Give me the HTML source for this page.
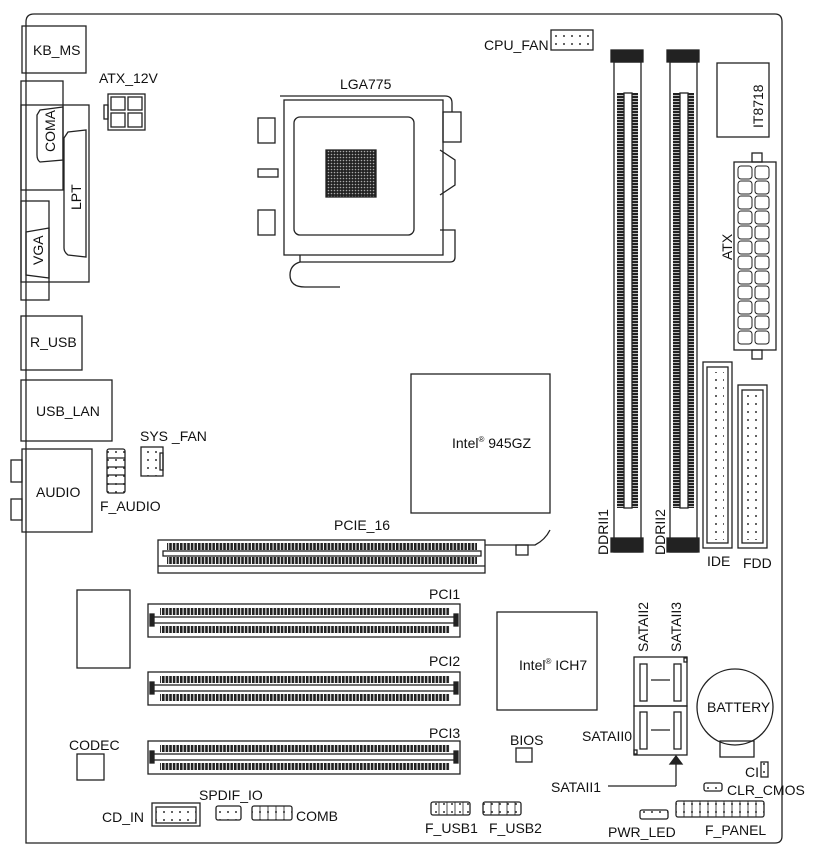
<!DOCTYPE html>
<html><head><meta charset="utf-8"><style>
html,body{margin:0;padding:0;background:#fff}
svg{display:block}
text{font-family:"Liberation Sans",Arial,sans-serif;font-size:14px;fill:#111}
</style></head><body>
<svg width="813" height="864" viewBox="0 0 813 864" xmlns="http://www.w3.org/2000/svg">
<defs>
<pattern id="pins" width="3.6" height="10" patternUnits="userSpaceOnUse"><rect x="0" y="0" width="2.6" height="10" fill="#222"/></pattern>
<pattern id="dpins" width="10" height="3" patternUnits="userSpaceOnUse"><rect x="0" y="0" width="10" height="2.3" fill="#222"/></pattern>
<pattern id="dots" width="8" height="8" patternUnits="userSpaceOnUse"><rect width="8" height="8" fill="#fff"/><circle cx="4" cy="4" r="1" fill="#333"/></pattern>
<pattern id="hd" x="0" y="0" width="7.6" height="6" patternUnits="userSpaceOnUse"><rect width="7.6" height="6" fill="#fff"/><rect x="3" y="2" width="1.6" height="1.6" fill="#222"/></pattern>
<pattern id="grid" width="3" height="3" patternUnits="userSpaceOnUse"><rect width="3" height="3" fill="#222"/><circle cx="1.5" cy="1.5" r="0.8" fill="#aaa"/></pattern>
</defs>
<g fill="none" stroke="#222" stroke-width="1.3">
<path d="M26 843 L26 22 Q26 14 34 14 L775 14 Q782 14 782 22 L782 836 Q782 843 775 843 Z"/>
<rect x="22" y="26" width="64" height="47"/>
<rect x="21" y="81" width="42" height="109"/>
<rect x="21" y="105" width="68" height="177"/>
<path d="M40 110 L63 107 L63 160 L40 162 Q37 160 37 155 L37 115 Z"/>
<path d="M68 132 L86 130 L86 257 L68 255 Q64 252 64 248 L64 138 Z"/>
<rect x="21" y="201" width="28" height="99"/>
<path d="M26 232 L49 228 L49 278 L26 275 Z"/>
<rect x="108" y="94" width="37" height="36"/>
<rect x="104" y="105" width="4" height="14"/>
<rect x="111" y="97" width="14" height="13"/><rect x="128" y="97" width="14" height="13"/>
<rect x="111" y="113" width="14" height="14"/><rect x="128" y="113" width="14" height="14"/>
<rect x="21" y="316" width="61" height="54"/>
<rect x="21" y="380" width="91" height="61"/>
<rect x="22" y="449" width="70" height="83"/>
<rect x="11" y="460" width="11" height="22"/><rect x="11" y="499" width="11" height="21"/>
<rect x="107" y="449" width="18" height="44" rx="2" fill="url(#dots)"/>
<line x1="107" y1="458" x2="125" y2="458"/><line x1="107" y1="467" x2="125" y2="467"/><line x1="107" y1="475" x2="125" y2="475"/><line x1="107" y1="484" x2="125" y2="484"/>
<rect x="141" y="447" width="22" height="29" fill="url(#dots)"/><rect x="160" y="453" width="3" height="17"/>
<rect x="551" y="30" width="42" height="20" fill="url(#dots)"/>
<path d="M280 96 L445 96 Q452 96 452 103 L452 112"/>
<rect x="284" y="100" width="159" height="155"/>
<rect x="294" y="117" width="120" height="118" rx="6"/>
<rect x="258" y="118" width="17" height="25"/><rect x="258" y="169" width="20" height="8"/><rect x="258" y="210" width="17" height="25"/>
<rect x="443" y="112" width="18" height="30"/>
<path d="M440 150 L455 160 L455 185 L440 195"/>
<path d="M440 230 L455 230 L455 257 Q455 262 450 262 L300 262"/>
<path d="M300 255 L300 262 Q290 265 290 275 Q290 287 305 287 L340 287"/>
<rect x="326" y="150" width="50" height="47" fill="url(#grid)"/>
<rect x="614" y="62" width="27" height="490"/>
<rect x="611" y="50" width="32" height="12" fill="#222"/>
<rect x="617" y="93" width="21" height="415" fill="url(#dpins)" stroke="none"/>
<rect x="624" y="93" width="8" height="415" fill="#fff"/>
<rect x="611" y="538" width="32" height="14" fill="#222"/>
<rect x="670" y="62" width="27" height="490"/>
<rect x="667" y="50" width="32" height="12" fill="#222"/>
<rect x="673" y="93" width="21" height="415" fill="url(#dpins)" stroke="none"/>
<rect x="680" y="93" width="8" height="415" fill="#fff"/>
<rect x="667" y="538" width="32" height="14" fill="#222"/>
<rect x="717" y="63" width="52" height="74"/>
<rect x="734" y="162" width="42" height="188"/>
<rect x="752" y="153" width="10" height="9"/><rect x="752" y="350" width="10" height="9"/>
<g stroke-width="1">
<rect x="738" y="166" width="14" height="13" rx="3"/><rect x="755" y="166" width="14" height="13" rx="3"/>
<rect x="738" y="181" width="14" height="13" rx="3"/><rect x="755" y="181" width="14" height="13" rx="3"/>
<rect x="738" y="196" width="14" height="13" rx="3"/><rect x="755" y="196" width="14" height="13" rx="3"/>
<rect x="738" y="211" width="14" height="13" rx="3"/><rect x="755" y="211" width="14" height="13" rx="3"/>
<rect x="738" y="226" width="14" height="13" rx="3"/><rect x="755" y="226" width="14" height="13" rx="3"/>
<rect x="738" y="241" width="14" height="13" rx="3"/><rect x="755" y="241" width="14" height="13" rx="3"/>
<rect x="738" y="256" width="14" height="13" rx="3"/><rect x="755" y="256" width="14" height="13" rx="3"/>
<rect x="738" y="271" width="14" height="13" rx="3"/><rect x="755" y="271" width="14" height="13" rx="3"/>
<rect x="738" y="286" width="14" height="13" rx="3"/><rect x="755" y="286" width="14" height="13" rx="3"/>
<rect x="738" y="301" width="14" height="13" rx="3"/><rect x="755" y="301" width="14" height="13" rx="3"/>
<rect x="738" y="316" width="14" height="13" rx="3"/><rect x="755" y="316" width="14" height="13" rx="3"/>
<rect x="738" y="331" width="14" height="13" rx="3"/><rect x="755" y="331" width="14" height="13" rx="3"/>
</g>
<rect x="703" y="362" width="29" height="186"/><rect x="707" y="367" width="21" height="176"/>
<rect x="711" y="372" width="13" height="168" fill="url(#dots)" stroke="none"/>
<rect x="738" y="385" width="29" height="163"/><rect x="742" y="390" width="21" height="153"/>
<rect x="746" y="395" width="13" height="145" fill="url(#dots)" stroke="none"/>
<rect x="411" y="374" width="139" height="139"/>
<rect x="158" y="540" width="327" height="33"/><line x1="158" y1="566" x2="485" y2="566"/>
<rect x="167" y="543" width="310" height="7" fill="url(#pins)" stroke="none"/>
<rect x="167" y="557" width="310" height="7" fill="url(#pins)" stroke="none"/>
<rect x="163" y="551" width="318" height="5" fill="#fff"/>
<path d="M485 545 L520 545 L535 545 Q545 540 550 530" />
<rect x="516" y="545" width="12" height="10"/>
<g id="pci">
<rect x="148" y="604" width="312" height="33"/>
<rect x="160" y="608" width="290" height="7" fill="url(#pins)" stroke="none"/>
<rect x="160" y="626" width="290" height="7" fill="url(#pins)" stroke="none"/>
<rect x="153" y="617" width="302" height="6" fill="#fff"/>
<rect x="150" y="614" width="4" height="12" fill="#222"/><rect x="454" y="614" width="4" height="12" fill="#222"/>
</g>
<use href="#pci" y="68"/>
<use href="#pci" y="137"/>
<rect x="77" y="590" width="53" height="78"/>
<rect x="77" y="754" width="27" height="26"/>
<rect x="497" y="612" width="100" height="98"/>
<rect x="516" y="748" width="16" height="14"/>
<rect x="634" y="657" width="53" height="49"/><rect x="634" y="706" width="53" height="49"/>
<rect x="640" y="664" width="7" height="37"/><rect x="674" y="664" width="7" height="37"/>
<rect x="640" y="712" width="7" height="37"/><rect x="674" y="712" width="7" height="37"/>
<line x1="651" y1="680" x2="670" y2="680"/><line x1="651" y1="730" x2="670" y2="730"/>
<rect x="684" y="658" width="3" height="4"/><rect x="634" y="750" width="3" height="4"/>
<line x1="608" y1="786" x2="676" y2="786"/><line x1="676" y1="786" x2="676" y2="764"/>
<path d="M670 764 L682 764 L676 756 Z" fill="#222"/>
<circle cx="735" cy="707" r="38"/>
<rect x="720" y="741" width="34" height="16"/>
<rect x="761" y="762" width="7" height="15" fill="url(#dots)"/>
<rect x="704" y="783" width="18" height="8" rx="2" fill="url(#dots)"/>
<rect x="676" y="801" width="88" height="16" rx="2" fill="url(#dots)"/>
<rect x="640" y="810" width="28" height="9" rx="2" fill="url(#dots)"/>
<rect x="431" y="802" width="39" height="13" rx="2" fill="url(#dots)"/>
<rect x="483" y="802" width="38" height="13" rx="2" fill="url(#dots)"/>
<rect x="152" y="803" width="48" height="23"/><rect x="156" y="807" width="40" height="16" fill="url(#dots)"/>
<rect x="216" y="806" width="25" height="14" rx="2" fill="url(#dots)"/>
<rect x="252" y="806" width="40" height="14" rx="2" fill="url(#dots)"/>
<g stroke-width="0.8">
<line x1="439" y1="802" x2="439" y2="815"/><line x1="447" y1="802" x2="447" y2="815"/><line x1="455" y1="802" x2="455" y2="815"/><line x1="463" y1="802" x2="463" y2="815"/>
<line x1="491" y1="802" x2="491" y2="815"/><line x1="499" y1="802" x2="499" y2="815"/><line x1="507" y1="802" x2="507" y2="815"/><line x1="515" y1="802" x2="515" y2="815"/>
<line x1="260" y1="806" x2="260" y2="820"/><line x1="268" y1="806" x2="268" y2="820"/><line x1="276" y1="806" x2="276" y2="820"/><line x1="284" y1="806" x2="284" y2="820"/>
<line x1="684" y1="801" x2="684" y2="817"/><line x1="692" y1="801" x2="692" y2="817"/><line x1="700" y1="801" x2="700" y2="817"/><line x1="708" y1="801" x2="708" y2="817"/><line x1="716" y1="801" x2="716" y2="817"/><line x1="724" y1="801" x2="724" y2="817"/><line x1="732" y1="801" x2="732" y2="817"/><line x1="740" y1="801" x2="740" y2="817"/><line x1="748" y1="801" x2="748" y2="817"/><line x1="756" y1="801" x2="756" y2="817"/>
</g>
</g>
<text x="33" y="55">KB_MS</text>
<text x="99" y="83">ATX_12V</text>
<text transform="translate(55,152) rotate(-90)">COMA</text>
<text transform="translate(81,210) rotate(-90)">LPT</text>
<text transform="translate(43,265) rotate(-90)">VGA</text>
<text x="30" y="347">R_USB</text>
<text x="36" y="416">USB_LAN</text>
<text x="36" y="497">AUDIO</text>
<text x="140" y="441">SYS _FAN</text>
<text x="100" y="511">F_AUDIO</text>
<text x="340" y="89">LGA775</text>
<text x="484" y="50">CPU_FAN</text>
<text transform="translate(763,128) rotate(-90)">IT8718</text>
<text transform="translate(732,260) rotate(-90)">ATX</text>
<text transform="translate(608,555) rotate(-90)">DDRII1</text>
<text transform="translate(665,555) rotate(-90)">DDRII2</text>
<text x="707" y="566">IDE</text>
<text x="743" y="568">FDD</text>
<text x="452" y="448">Intel<tspan font-size="8" dy="-6">®</tspan><tspan dy="6"> 945GZ</tspan></text>
<text x="334" y="530">PCIE_16</text>
<text x="429" y="599">PCI1</text>
<text x="429" y="666">PCI2</text>
<text x="429" y="738">PCI3</text>
<text x="519" y="670">Intel<tspan font-size="8" dy="-6">®</tspan><tspan dy="6"> ICH7</tspan></text>
<text x="510" y="745">BIOS</text>
<text x="69" y="750">CODEC</text>
<text transform="translate(648,652) rotate(-90)">SATAII2</text>
<text transform="translate(681,652) rotate(-90)">SATAII3</text>
<text x="582" y="741">SATAII0</text>
<text x="551" y="792">SATAII1</text>
<text x="707" y="712">BATTERY</text>
<text x="745" y="777">CI</text>
<text x="727" y="795">CLR_CMOS</text>
<text x="608" y="837">PWR_LED</text>
<text x="705" y="835">F_PANEL</text>
<text x="425" y="833">F_USB1</text>
<text x="489" y="833">F_USB2</text>
<text x="102" y="822">CD_IN</text>
<text x="199" y="800">SPDIF_IO</text>
<text x="296" y="821">COMB</text>
</svg>
</body></html>
